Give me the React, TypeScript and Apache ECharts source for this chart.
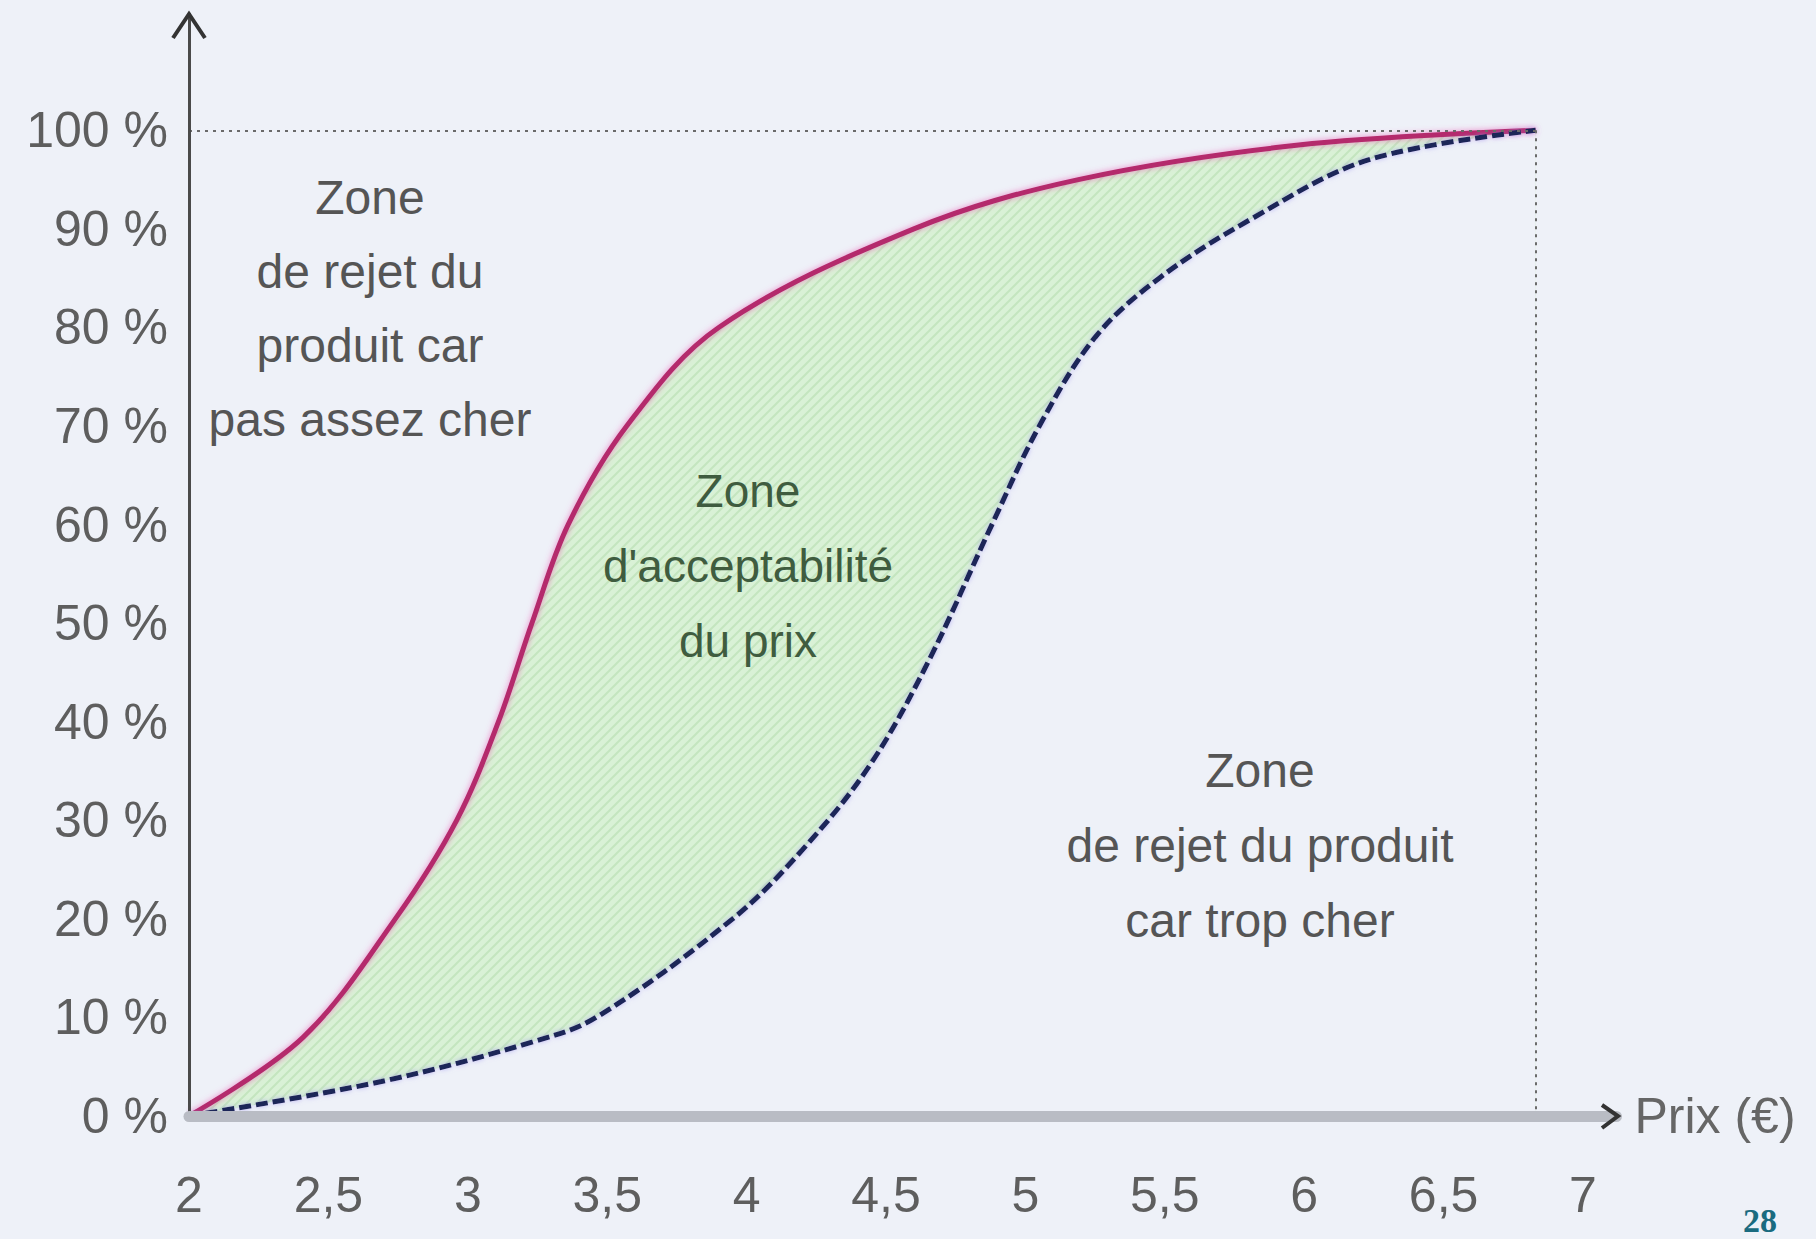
import React, { useEffect, useRef } from 'react';
import * as echarts from 'echarts';

// ---- data ----
const xTickLabels = ['2', '2,5', '3', '3,5', '4', '4,5', '5', '5,5', '6', '6,5', '7'];
const yTickValues = [0, 10, 20, 30, 40, 50, 60, 70, 80, 90, 100];

// "pas assez cher" curve (pink) : price -> cumulated share (%)
const pinkPrices = [2.0, 2.41, 2.74, 2.96, 3.11, 3.23, 3.36, 3.57, 3.9, 4.6, 5.19, 5.98, 6.83];
const pinkShares = [0, 8, 20, 30, 40, 50, 60, 70, 80, 90, 95, 98.5, 100];

// "trop cher" curve (blue)
const bluePrices = [2.0, 2.69, 3.23, 3.46, 3.95, 4.2, 4.44, 4.65, 4.88, 5.05, 5.25, 5.48, 5.81, 6.23, 6.83];
const blueShares = [0, 3.5, 7.5, 10, 20, 27, 35.5, 46, 60, 70, 79, 85, 91, 97, 100];

const endPrice = 6.83;

const zoneLow = ['Zone', 'de rejet du', 'produit car', 'pas assez cher'];
const zoneOk = ['Zone', "d'acceptabilité", 'du prix'];
const zoneHigh = ['Zone', 'de rejet du produit', 'car trop cher'];
const axisName = 'Prix (€)';
const pageNumber = '28';

const BG = '#eef1f8';
const SANS = "'Liberation Sans', Arial, sans-serif";

function makeHatch(): HTMLCanvasElement {
  const c = document.createElement('canvas');
  c.width = 10;
  c.height = 10;
  const g = c.getContext('2d')!;
  g.fillStyle = '#d9f1d6';
  g.fillRect(0, 0, 10, 10);
  g.strokeStyle = '#c4e5bf';
  g.lineWidth = 2;
  g.beginPath();
  g.moveTo(0, 10); g.lineTo(10, 0);
  g.moveTo(-5, 5); g.lineTo(5, -5);
  g.moveTo(5, 15); g.lineTo(15, 5);
  g.stroke();
  return c;
}

export default function App() {
  const ref = useRef<HTMLDivElement>(null);

  useEffect(() => {
    document.body.style.margin = '0';
    document.body.style.background = BG;
    const chart = echarts.init(ref.current!, undefined, { renderer: 'svg' });
    const hatch = makeHatch();

    const pinkData = pinkPrices.map((p, i) => [p, pinkShares[i]]);
    const blueData = bluePrices.map((p, i) => [p, blueShares[i]]);

    const option: any = {
      animation: false,
      backgroundColor: BG,
      grid: { left: 189, top: 14, width: (7.12 - 2) * 278.8, height: 1102 },
      xAxis: {
        type: 'value',
        min: 2,
        max: 7.12,
        interval: 0.5,
        z: 5,
        name: axisName,
        nameLocation: 'end',
        nameGap: 18,
        nameTextStyle: { fontFamily: SANS, fontSize: 50, color: '#666', verticalAlign: 'middle' },
        axisLine: { show: true, lineStyle: { color: '#b9bcc4', width: 11 } },
        axisTick: { show: false },
        splitLine: { show: false },
        axisLabel: {
          margin: 54,
          fontFamily: SANS,
          fontSize: 50,
          color: '#5e5e5e',
          formatter: (v: number) => {
            const k = Math.round((v - 2) / 0.5);
            return Math.abs(2 + k * 0.5 - v) < 1e-6 && k >= 0 && k < xTickLabels.length ? xTickLabels[k] : '';
          },
        },
      },
      yAxis: {
        type: 'value',
        min: 0,
        max: 111.8,
        interval: 10,
        z: 5,
        axisLine: { show: true, lineStyle: { color: '#4a4a4a', width: 3 } },
        axisTick: { show: false },
        splitLine: { show: false },
        axisLabel: {
          margin: 21,
          fontFamily: SANS,
          fontSize: 50,
          color: '#5e5e5e',
          formatter: (v: number) => (yTickValues.indexOf(v) >= 0 ? `${v} %` : ''),
        },
      },
      series: [
        {
          type: 'line',
          name: 'pas assez cher',
          data: pinkData,
          smooth: 0.35,
          showSymbol: false,
          z: 3,
          lineStyle: {
            color: '#b42a6c',
            width: 5,
            shadowColor: 'rgba(235,90,180,0.7)',
            shadowBlur: 6,
          },
          areaStyle: {
            color: { image: hatch, repeat: 'repeat', imageWidth: 10, imageHeight: 10 },
            opacity: 1,
          },
        },
        {
          type: 'line',
          name: 'trop cher',
          data: blueData,
          smooth: 0.35,
          showSymbol: false,
          z: 3,
          lineStyle: {
            color: '#1d2558',
            width: 5,
            type: [12, 5],
            shadowColor: 'rgba(150,140,240,0.6)',
            shadowBlur: 5,
          },
          areaStyle: { color: BG, opacity: 1 },
        },
        {
          type: 'line',
          data: [],
          z: 4,
          markLine: {
            silent: true,
            symbol: ['none', 'none'],
            label: { show: false },
            lineStyle: { color: '#6a6a6a', width: 2, type: [3, 5] },
            data: [
              [{ coord: [2, 100] }, { coord: [endPrice, 100] }],
              [{ coord: [endPrice, 100] }, { coord: [endPrice, 0] }],
            ],
          },
        },
      ],
      graphic: [
        {
          type: 'polyline',
          z: 10,
          shape: { points: [[173, 38], [189, 14], [205, 38]] },
          style: { stroke: '#333', lineWidth: 4, fill: null },
        },
        {
          type: 'polyline',
          z: 10,
          shape: { points: [[1602, 1105], [1618, 1116], [1602, 1128]] },
          style: { stroke: '#333', lineWidth: 4, fill: null },
        },
        {
          type: 'text',
          z: 10,
          x: 370,
          y: 160,
          style: {
            text: zoneLow.join('\n'),
            fontFamily: SANS,
            fontSize: 48,
            lineHeight: 74,
            fill: '#555',
            align: 'center',
            verticalAlign: 'top',
          },
        },
        {
          type: 'text',
          z: 10,
          x: 748,
          y: 453,
          style: {
            text: zoneOk.join('\n'),
            fontFamily: SANS,
            fontSize: 46,
            lineHeight: 75,
            fill: '#3f5c3f',
            align: 'center',
            verticalAlign: 'top',
          },
        },
        {
          type: 'text',
          z: 10,
          x: 1260,
          y: 733,
          style: {
            text: zoneHigh.join('\n'),
            fontFamily: SANS,
            fontSize: 48,
            lineHeight: 75,
            fill: '#555',
            align: 'center',
            verticalAlign: 'top',
          },
        },
        {
          type: 'text',
          z: 10,
          x: 1760,
          y: 1220,
          style: {
            text: pageNumber,
            fontFamily: "'Liberation Serif', 'DejaVu Serif', serif",
            fontSize: 34,
            fontWeight: 'bold',
            fill: '#1a6b80',
            align: 'center',
            verticalAlign: 'middle',
          },
        },
      ],
    };

    chart.setOption(option);
    return () => chart.dispose();
  }, []);

  return <div ref={ref} style={{ width: 1816, height: 1239 }} />;
}
